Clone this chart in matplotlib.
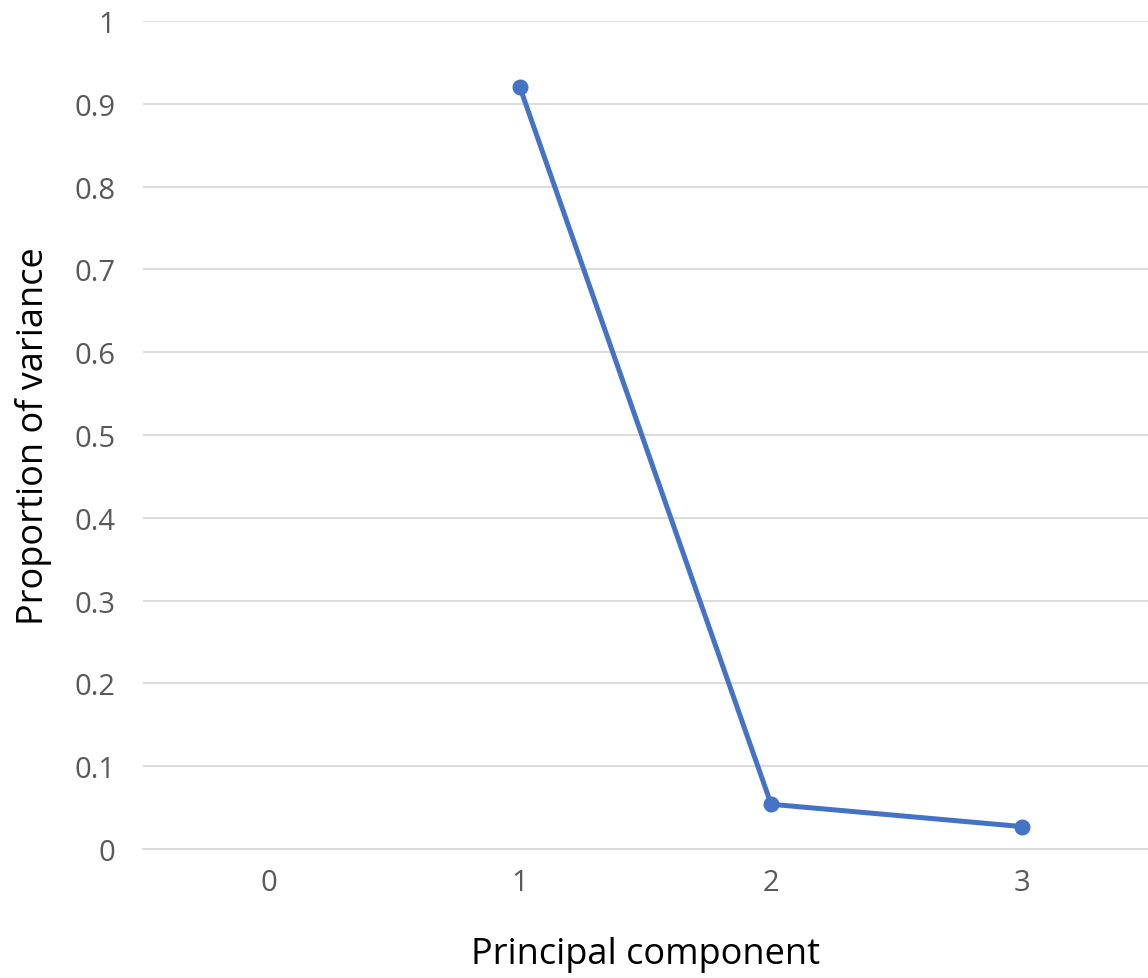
import matplotlib
matplotlib.use('Agg')
import matplotlib.pyplot as plt

# scree plot data
components = [1, 2, 3]
propVar = [0.920, 0.054, 0.027]
xTicks = [0, 1, 2, 3]
yTicks = [0, 0.1, 0.2, 0.3, 0.4, 0.5, 0.6, 0.7, 0.8, 0.9, 1]
yLabels = ['0', '0.1', '0.2', '0.3', '0.4', '0.5', '0.6', '0.7', '0.8', '0.9', '1']

plt.rcParams['font.family'] = ['Open Sans', 'DejaVu Sans']

fig = plt.figure(figsize=(11.48, 9.79), dpi=100)
ax = fig.add_axes([0.1246, 0.1318, 0.8754, 0.8457])

ax.plot(components, propVar, color='#4472C4', linewidth=3.6,
        marker='o', markersize=10.5, zorder=3)

ax.set_xlim(-0.5, 3.5)
ax.set_ylim(0, 1)
ax.set_xticks(xTicks)
ax.set_yticks(yTicks)
ax.set_yticklabels(yLabels)
ax.grid(True, axis='y', color='#D9D9D9', linewidth=1.3)
ax.set_axisbelow(True)
for s in ax.spines.values():
    s.set_visible(False)
ax.spines['bottom'].set_visible(True)
ax.spines['bottom'].set_color('#D9D9D9')
ax.spines['bottom'].set_linewidth(1.3)
ax.tick_params(length=0, labelsize=21, labelcolor='#595959', pad=14)
ax.tick_params(axis='y', pad=20)

ax.set_xlabel('Principal component', fontsize=26, color='black', labelpad=28)
ax.set_ylabel('Proportion of variance', fontsize=26, color='black', labelpad=16)

fig.savefig('out.png', dpi=100)
